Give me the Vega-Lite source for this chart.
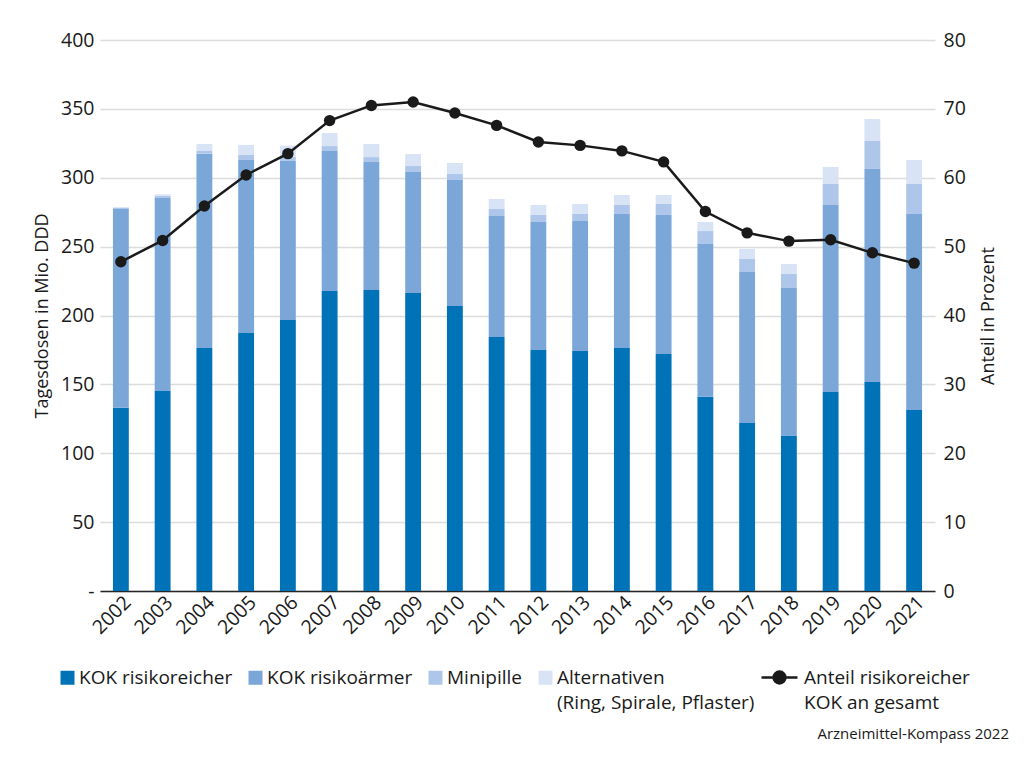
{
  "$schema": "https://vega.github.io/schema/vega-lite/v6.json",
  "autosize": "none",
  "width": 835,
  "height": 551,
  "padding": {"left": 100, "top": 40, "right": 90, "bottom": 167},
  "background": "white",
  "config": {
    "font": "Open Sans",
    "view": {"stroke": null},
    "axis": {"labelFont": "Open Sans", "titleFont": "Open Sans", "labelColor": "#1a1a1a", "titleColor": "#1a1a1a", "labelFontSize": 19.5, "titleFontSize": 18, "titleFontWeight": "normal", "ticks": false},
    "legend": {"labelFont": "Open Sans", "labelFontSize": 19, "labelColor": "#1a1a1a", "labelLimit": 400},
    "style": {"guide-label": {"lineHeight": 25}}
  },
  "title": {"text": "Arzneimittel-Kompass 2022", "orient": "bottom", "anchor": "end", "frame": "group", "fontSize": 15, "font": "Open Sans", "fontWeight": "normal", "color": "#1a1a1a", "dx": 74, "dy": 0, "offset": 14},
  "datasets": {
    "bars": [
      {"Jahr": "2002", "Kategorie": "KOK risikoreicher", "Wert": 133.0},
      {"Jahr": "2002", "Kategorie": "KOK risikoärmer", "Wert": 144.3},
      {"Jahr": "2002", "Kategorie": "Minipille", "Wert": 1.0},
      {"Jahr": "2002", "Kategorie": "Alternativen", "Wert": 0.3},
      {"Jahr": "2003", "Kategorie": "KOK risikoreicher", "Wert": 145.2},
      {"Jahr": "2003", "Kategorie": "KOK risikoärmer", "Wert": 140.1},
      {"Jahr": "2003", "Kategorie": "Minipille", "Wert": 1.7},
      {"Jahr": "2003", "Kategorie": "Alternativen", "Wert": 1.0},
      {"Jahr": "2004", "Kategorie": "KOK risikoreicher", "Wert": 176.4},
      {"Jahr": "2004", "Kategorie": "KOK risikoärmer", "Wert": 141.1},
      {"Jahr": "2004", "Kategorie": "Minipille", "Wert": 1.9},
      {"Jahr": "2004", "Kategorie": "Alternativen", "Wert": 5.1},
      {"Jahr": "2005", "Kategorie": "KOK risikoreicher", "Wert": 187.3},
      {"Jahr": "2005", "Kategorie": "KOK risikoärmer", "Wert": 125.6},
      {"Jahr": "2005", "Kategorie": "Minipille", "Wert": 3.6},
      {"Jahr": "2005", "Kategorie": "Alternativen", "Wert": 7.3},
      {"Jahr": "2006", "Kategorie": "KOK risikoreicher", "Wert": 196.7},
      {"Jahr": "2006", "Kategorie": "KOK risikoärmer", "Wert": 115.5},
      {"Jahr": "2006", "Kategorie": "Minipille", "Wert": 3.1},
      {"Jahr": "2006", "Kategorie": "Alternativen", "Wert": 8.0},
      {"Jahr": "2007", "Kategorie": "KOK risikoreicher", "Wert": 217.8},
      {"Jahr": "2007", "Kategorie": "KOK risikoärmer", "Wert": 101.6},
      {"Jahr": "2007", "Kategorie": "Minipille", "Wert": 3.6},
      {"Jahr": "2007", "Kategorie": "Alternativen", "Wert": 9.5},
      {"Jahr": "2008", "Kategorie": "KOK risikoreicher", "Wert": 218.5},
      {"Jahr": "2008", "Kategorie": "KOK risikoärmer", "Wert": 92.9},
      {"Jahr": "2008", "Kategorie": "Minipille", "Wert": 3.6},
      {"Jahr": "2008", "Kategorie": "Alternativen", "Wert": 9.5},
      {"Jahr": "2009", "Kategorie": "KOK risikoreicher", "Wert": 216.4},
      {"Jahr": "2009", "Kategorie": "KOK risikoärmer", "Wert": 87.8},
      {"Jahr": "2009", "Kategorie": "Minipille", "Wert": 4.3},
      {"Jahr": "2009", "Kategorie": "Alternativen", "Wert": 8.7},
      {"Jahr": "2010", "Kategorie": "KOK risikoreicher", "Wert": 206.9},
      {"Jahr": "2010", "Kategorie": "KOK risikoärmer", "Wert": 91.5},
      {"Jahr": "2010", "Kategorie": "Minipille", "Wert": 4.3},
      {"Jahr": "2010", "Kategorie": "Alternativen", "Wert": 8.0},
      {"Jahr": "2011", "Kategorie": "KOK risikoreicher", "Wert": 184.4},
      {"Jahr": "2011", "Kategorie": "KOK risikoärmer", "Wert": 87.8},
      {"Jahr": "2011", "Kategorie": "Minipille", "Wert": 5.1},
      {"Jahr": "2011", "Kategorie": "Alternativen", "Wert": 7.3},
      {"Jahr": "2012", "Kategorie": "KOK risikoreicher", "Wert": 175.0},
      {"Jahr": "2012", "Kategorie": "KOK risikoärmer", "Wert": 92.9},
      {"Jahr": "2012", "Kategorie": "Minipille", "Wert": 5.1},
      {"Jahr": "2012", "Kategorie": "Alternativen", "Wert": 7.2},
      {"Jahr": "2013", "Kategorie": "KOK risikoreicher", "Wert": 174.2},
      {"Jahr": "2013", "Kategorie": "KOK risikoärmer", "Wert": 94.4},
      {"Jahr": "2013", "Kategorie": "Minipille", "Wert": 5.1},
      {"Jahr": "2013", "Kategorie": "Alternativen", "Wert": 7.3},
      {"Jahr": "2014", "Kategorie": "KOK risikoreicher", "Wert": 176.4},
      {"Jahr": "2014", "Kategorie": "KOK risikoärmer", "Wert": 97.3},
      {"Jahr": "2014", "Kategorie": "Minipille", "Wert": 6.5},
      {"Jahr": "2014", "Kategorie": "Alternativen", "Wert": 7.3},
      {"Jahr": "2015", "Kategorie": "KOK risikoreicher", "Wert": 172.0},
      {"Jahr": "2015", "Kategorie": "KOK risikoärmer", "Wert": 101.0},
      {"Jahr": "2015", "Kategorie": "Minipille", "Wert": 8.0},
      {"Jahr": "2015", "Kategorie": "Alternativen", "Wert": 6.5},
      {"Jahr": "2016", "Kategorie": "KOK risikoreicher", "Wert": 141.0},
      {"Jahr": "2016", "Kategorie": "KOK risikoärmer", "Wert": 110.9},
      {"Jahr": "2016", "Kategorie": "Minipille", "Wert": 9.4},
      {"Jahr": "2016", "Kategorie": "Alternativen", "Wert": 6.6},
      {"Jahr": "2017", "Kategorie": "KOK risikoreicher", "Wert": 122.0},
      {"Jahr": "2017", "Kategorie": "KOK risikoärmer", "Wert": 109.6},
      {"Jahr": "2017", "Kategorie": "Minipille", "Wert": 9.4},
      {"Jahr": "2017", "Kategorie": "Alternativen", "Wert": 7.3},
      {"Jahr": "2018", "Kategorie": "KOK risikoreicher", "Wert": 112.8},
      {"Jahr": "2018", "Kategorie": "KOK risikoärmer", "Wert": 107.2},
      {"Jahr": "2018", "Kategorie": "Minipille", "Wert": 10.1},
      {"Jahr": "2018", "Kategorie": "Alternativen", "Wert": 7.3},
      {"Jahr": "2019", "Kategorie": "KOK risikoreicher", "Wert": 144.5},
      {"Jahr": "2019", "Kategorie": "KOK risikoärmer", "Wert": 135.7},
      {"Jahr": "2019", "Kategorie": "Minipille", "Wert": 15.3},
      {"Jahr": "2019", "Kategorie": "Alternativen", "Wert": 12.3},
      {"Jahr": "2020", "Kategorie": "KOK risikoreicher", "Wert": 151.7},
      {"Jahr": "2020", "Kategorie": "KOK risikoärmer", "Wert": 154.7},
      {"Jahr": "2020", "Kategorie": "Minipille", "Wert": 20.3},
      {"Jahr": "2020", "Kategorie": "Alternativen", "Wert": 15.9},
      {"Jahr": "2021", "Kategorie": "KOK risikoreicher", "Wert": 131.4},
      {"Jahr": "2021", "Kategorie": "KOK risikoärmer", "Wert": 142.3},
      {"Jahr": "2021", "Kategorie": "Minipille", "Wert": 21.8},
      {"Jahr": "2021", "Kategorie": "Alternativen", "Wert": 17.4}
    ],
    "anteil": [
      {"Jahr": "2002", "Anteil": 47.8},
      {"Jahr": "2003", "Anteil": 50.9},
      {"Jahr": "2004", "Anteil": 55.9},
      {"Jahr": "2005", "Anteil": 60.4},
      {"Jahr": "2006", "Anteil": 63.5},
      {"Jahr": "2007", "Anteil": 68.3},
      {"Jahr": "2008", "Anteil": 70.5},
      {"Jahr": "2009", "Anteil": 71.0},
      {"Jahr": "2010", "Anteil": 69.4},
      {"Jahr": "2011", "Anteil": 67.6},
      {"Jahr": "2012", "Anteil": 65.2},
      {"Jahr": "2013", "Anteil": 64.7},
      {"Jahr": "2014", "Anteil": 63.9},
      {"Jahr": "2015", "Anteil": 62.3},
      {"Jahr": "2016", "Anteil": 55.1},
      {"Jahr": "2017", "Anteil": 52.0},
      {"Jahr": "2018", "Anteil": 50.8},
      {"Jahr": "2019", "Anteil": 51.0},
      {"Jahr": "2020", "Anteil": 49.1},
      {"Jahr": "2021", "Anteil": 47.6}
    ]
  },
  "encoding": {
    "x": {
      "field": "Jahr", "type": "ordinal",
      "scale": {"paddingInner": 0.62, "paddingOuter": 0.31},
      "axis": {"title": null, "labelAngle": -45, "labelAlign": "right", "labelBaseline": "middle", "labelPadding": 8, "labelOffset": 7, "domainColor": "#262626", "domainWidth": 1.5, "grid": false}
    }
  },
  "layer": [
    {
      "data": {"name": "bars"},
      "transform": [
        {"calculate": "indexof(['KOK risikoreicher','KOK risikoärmer','Minipille','Alternativen'], datum.Kategorie)", "as": "Reihenfolge"}
      ],
      "mark": {"type": "bar"},
      "encoding": {
        "y": {
          "field": "Wert", "type": "quantitative", "stack": "zero",
          "scale": {"domain": [0, 400], "nice": false},
          "axis": {"title": "Tagesdosen in Mio. DDD", "values": [0, 50, 100, 150, 200, 250, 300, 350, 400], "labelExpr": "datum.value == 0 ? '-' : datum.label", "grid": true, "gridColor": "#dcdcdc", "gridWidth": 1.5, "domain": false, "labelPadding": 6, "titlePadding": 9}
        },
        "fill": {
          "field": "Kategorie", "type": "nominal",
          "scale": {"domain": ["KOK risikoreicher", "KOK risikoärmer", "Minipille", "Alternativen"], "range": ["#0072b7", "#7ba7d8", "#adc6ea", "#d8e3f6"]},
          "legend": {"title": null, "orient": "none", "legendX": -42, "legendY": 628, "direction": "horizontal", "symbolType": "square", "symbolSize": 196, "symbolStrokeWidth": 0, "labelOffset": 2, "columnPadding": 13, "labelExpr": "datum.label == 'Alternativen' ? ['Alternativen', '(Ring, Spirale, Pflaster)'] : [datum.label, '']"}
        },
        "order": {"field": "Reihenfolge", "type": "quantitative"}
      }
    },
    {
      "data": {"name": "anteil"},
      "layer": [
        {
          "mark": {"type": "line", "strokeWidth": 2.5},
          "encoding": {
            "y": {"field": "Anteil", "type": "quantitative", "scale": {"domain": [0, 80], "nice": false},
              "axis": {"orient": "right", "title": "Anteil in Prozent", "titleAngle": 270, "titleBaseline": "top", "values": [0, 10, 20, 30, 40, 50, 60, 70, 80], "grid": false, "domain": false, "labelPadding": 8, "titlePadding": 14}},
            "stroke": {
              "datum": "Anteil risikoreicher KOK an gesamt", "type": "nominal",
              "scale": {"range": ["#1a1a1a"]},
              "legend": {"title": null, "orient": "none", "legendX": 660, "legendY": 618, "symbolType": "M-1,0L1,0M0.33,0A0.33,0.33,0,1,1,-0.33,0A0.33,0.33,0,1,1,0.33,0Z", "symbolSize": 1296, "symbolFillColor": "#1a1a1a", "symbolStrokeColor": "#1a1a1a", "symbolStrokeWidth": 2.5, "labelOffset": 5, "labelExpr": "['Anteil risikoreicher', 'KOK an gesamt']"}
            }
          }
        },
        {
          "mark": {"type": "point", "filled": true, "size": 130, "color": "#1a1a1a", "opacity": 1},
          "encoding": {
            "y": {"field": "Anteil", "type": "quantitative", "scale": {"domain": [0, 80], "nice": false}}
          }
        }
      ]
    }
  ],
  "resolve": {"scale": {"y": "independent"}}
}
